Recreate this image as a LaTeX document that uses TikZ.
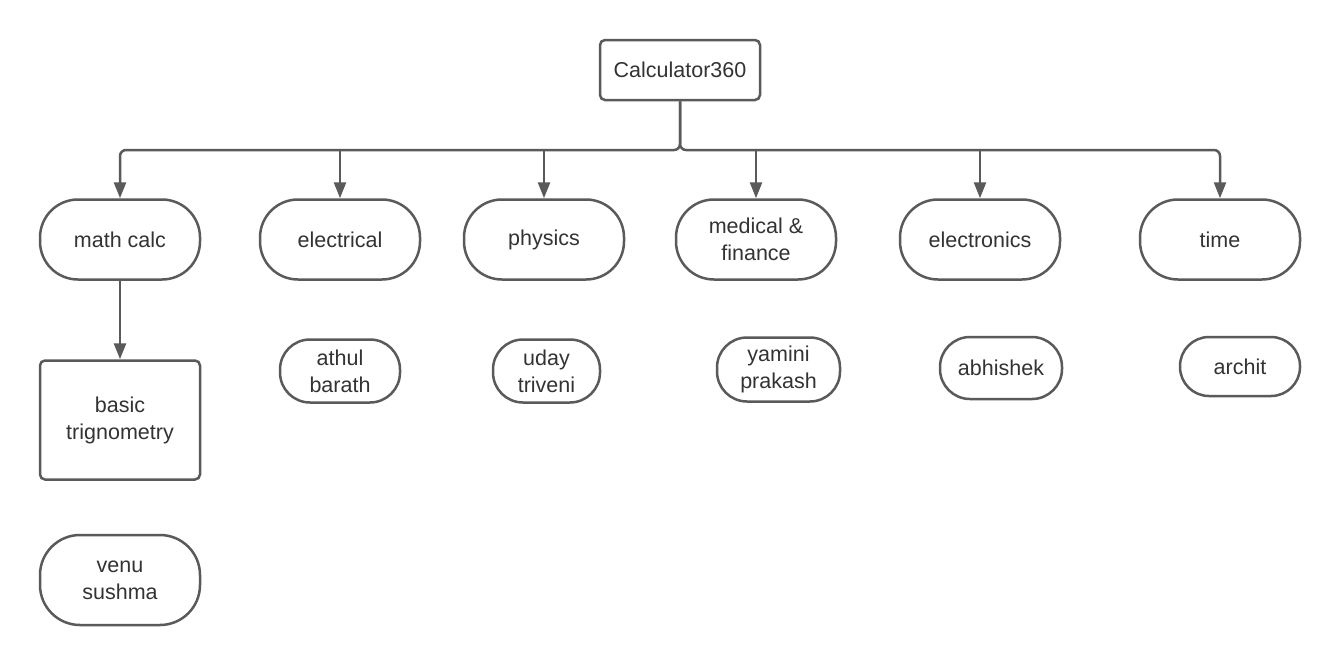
\documentclass[tikz,border=0pt]{standalone}
\usepackage{fontspec}
\setmainfont{Liberation Sans}
\usetikzlibrary{arrows.meta}
\definecolor{ln}{HTML}{5A5A5A}
\definecolor{tx}{HTML}{333333}
\begin{document}
\begin{tikzpicture}[x=1pt,y=-1pt,
 base/.style={draw=ln,line width=2.5pt,text=tx,font=\fontsize{21.5}{27}\selectfont,align=center,inner sep=0pt,fill=white},
 pill/.style={base,rounded corners=#1},
 box/.style={base,rounded corners=5pt},
 conn/.style={draw=ln,line width=2.5pt,-{Triangle[length=16pt,width=12pt]}}]
\fill[white] (0,0) rectangle (1340,665);
\useasboundingbox (0,0) rectangle (1340,665);
\node[box,minimum width=160pt,minimum height=60pt] (calc) at (680,70) {Calculator360};
\node[pill=38pt,minimum width=160pt,minimum height=80pt] (math) at (120,239.5) {math calc};
\node[pill=38pt,minimum width=160pt,minimum height=80pt] (elec) at (340,239.5) {electrical};
\node[pill=38pt,minimum width=160pt,minimum height=80pt] (phys) at (544,239.5) {physics};
\node[pill=38pt,minimum width=160pt,minimum height=80pt] (med) at (756,239.5) {medical \&\\finance};
\node[pill=38pt,minimum width=160pt,minimum height=80pt] (elx) at (980,239.5) {electronics};
\node[pill=38pt,minimum width=160pt,minimum height=80pt] (time) at (1220,239.5) {time};
\node[box,minimum width=160pt,minimum height=119pt] (trig) at (120,420) {basic\\trignometry};
\node[pill=40pt,minimum width=160pt,minimum height=90pt] (venu) at (120,580) {venu\\sushma};
\node[pill=30pt,minimum width=120pt,minimum height=63pt] (athul) at (340,371) {athul\\barath};
\node[pill=30pt,minimum width=107pt,minimum height=63pt] (uday) at (546.5,371) {uday\\triveni};
\node[pill=30pt,minimum width=123pt,minimum height=64pt] (yamini) at (778.5,369.5) {yamini\\prakash};
\node[pill=30pt,minimum width=122pt,minimum height=62pt] (abhi) at (1001,368) {abhishek};
\node[pill=29pt,minimum width=120pt,minimum height=59pt] (archit) at (1240,366.5) {archit};
\coordinate (bus) at (0,150);
\draw[conn,rounded corners=6pt] (calc.south) |- (math.north |- bus) -- (math.north);
\draw[conn,rounded corners=6pt] (calc.south) |- (time.north |- bus) -- (time.north);
\draw[conn] (elec.north |- bus) -- (elec.north);
\draw[conn] (phys.north |- bus) -- (phys.north);
\draw[conn] (med.north |- bus) -- (med.north);
\draw[conn] (elx.north |- bus) -- (elx.north);
\draw[conn] (math.south) -- (trig.north);
\end{tikzpicture}
\end{document}
